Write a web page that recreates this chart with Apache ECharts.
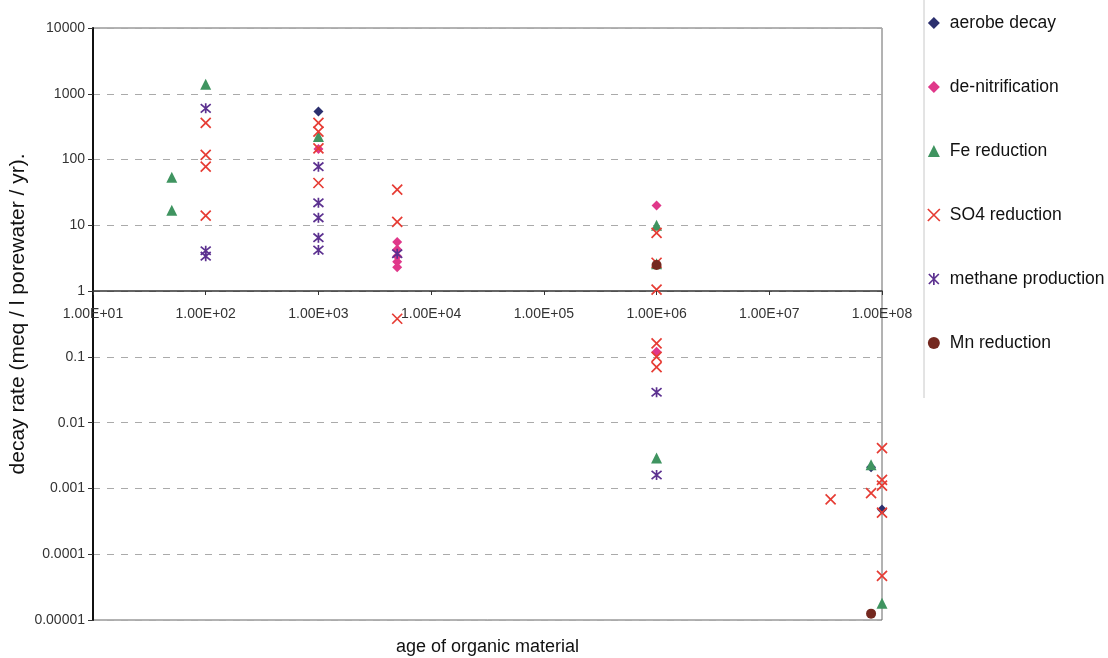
<!DOCTYPE html>
<html>
<head>
<meta charset="utf-8">
<script src="https://cdn.jsdelivr.net/npm/echarts@6/dist/echarts.min.js"></script>
<style>
html,body{margin:0;padding:0;background:#fff;}
#chart{width:1108px;height:658px;}
</style>
</head>
<body>
<div id="chart"></div>
<script>
// ---- data (age in years, decay rate in meq / l porewater / yr) ----
const seriesNames = ['aerobe decay', 'de-nitrification', 'Fe reduction', 'SO4 reduction', 'methane production', 'Mn reduction'];
const aerobeDecay = [[1000, 540], [8e7, 0.0021], [1e8, 0.00048]];
const deNitrification = [[1000, 145], [5000, 5.6], [5000, 4.3], [5000, 3.4], [5000, 2.8], [5000, 2.3], [1e6, 20], [1e6, 0.12]];
const feReduction = [[50, 54], [50, 17], [100, 1400], [1000, 225], [1e6, 10], [1e6, 2.6], [1e6, 0.0029], [8e7, 0.0023], [1e8, 1.8e-5]];
const so4Reduction = [[100, 360], [100, 118], [100, 78], [100, 14], [1000, 360], [1000, 265], [1000, 148], [1000, 44],
  [5000, 35], [5000, 11.3], [5000, 0.38], [1e6, 7.7], [1e6, 2.7], [1e6, 1.05], [1e6, 0.16], [1e6, 0.1], [1e6, 0.07],
  [3.5e7, 0.00068], [8e7, 0.00085], [1e8, 0.0041], [1e8, 0.00135], [1e8, 0.0011], [1e8, 0.00043], [1e8, 4.7e-5]];
const methaneProduction = [[100, 600], [100, 4.1], [100, 3.4], [1000, 78], [1000, 22], [1000, 13], [1000, 6.5], [1000, 4.2],
  [5000, 3.7], [1e6, 0.029], [1e6, 0.0016]];
const mnReduction = [[1e6, 2.5], [8e7, 1.25e-5]];

const xTickLabels = ['1.00E+01', '1.00E+02', '1.00E+03', '1.00E+04', '1.00E+05', '1.00E+06', '1.00E+07', '1.00E+08'];
const yTickLabels = ['0.00001', '0.0001', '0.001', '0.01', '0.1', '1', '10', '100', '1000', '10000'];

const xAxisName = 'age of organic material';
const yAxisName = 'decay rate (meq / l porewater / yr).';

// ---- styling ----
const colors = ['#2b2f6e', '#e0388a', '#3f9460', '#e63c34', '#5c3190', '#74281f'];
const crossPath = 'path://M0,0L10,10M10,0L0,10';
const starPath = 'path://M0,0L10,10M10,0L0,10M5,-1L5,11';
const FONT = 'Liberation Sans, Arial, sans-serif';

const chart = echarts.init(document.getElementById('chart'));

function styleFor(i, stroke) {
  return stroke ? { color: 'rgba(0,0,0,0)', borderColor: colors[i], borderWidth: 1.7, opacity: 1 } : { color: colors[i], opacity: 1 };
}
function scatter(i, data, symbol, size, stroke) {
  return {
    name: seriesNames[i], type: 'scatter', data: data, symbol: symbol, symbolSize: size,
    itemStyle: styleFor(i, stroke),
    emphasis: { disabled: true }
  };
}

const option = {
  animation: false,
  backgroundColor: '#fff',
  grid: { left: 93, right: 226, top: 28, bottom: 38, show: true, borderColor: '#666', borderWidth: 1,
          containLabel: false, outerBoundsMode: 'none' },
  legend: {
    orient: 'vertical', left: 922, top: 8, itemWidth: 12, itemHeight: 12, itemGap: 44,
    textStyle: { fontFamily: FONT, fontSize: 17.5, color: '#111', lineHeight: 20, padding: [0, 0, 0, 5] },
    data: seriesNames.map((n, i) => ({ name: n, itemStyle: styleFor(i, i === 3 || i === 4) }))
  },
  xAxis: {
    type: 'log', logBase: 10, min: 10, max: 1e8, splitNumber: 7,
    offset: -329,
    name: xAxisName, nameLocation: 'middle', nameGap: 347,
    nameTextStyle: { fontFamily: FONT, fontSize: 18, color: '#111' },
    axisLine: { show: true, lineStyle: { color: '#333', width: 1.5 } },
    axisTick: { show: true, length: 4, lineStyle: { color: '#333' } },
    minorTick: { show: false },
    splitLine: { show: false },
    axisLabel: {
      margin: 16, fontFamily: FONT, fontSize: 14, color: '#333',
      formatter: v => xTickLabels[Math.round(Math.log10(v)) - 1] || ''
    }
  },
  yAxis: {
    type: 'log', logBase: 10, min: 1e-5, max: 1e4, splitNumber: 9,
    axisLine: { show: true, lineStyle: { color: '#111', width: 2 } },
    axisTick: { show: true, length: 5, lineStyle: { color: '#333' } },
    splitLine: { show: true, lineStyle: { color: '#aaa', type: [7, 7], width: 1 } },
    axisLabel: {
      margin: 8, fontFamily: FONT, fontSize: 14, color: '#333',
      formatter: v => yTickLabels[Math.round(Math.log10(v)) + 5] || ''
    }
  },
  graphic: [{
    type: 'line', shape: { x1: 924, y1: 0, x2: 924, y2: 398 }, style: { stroke: '#c8c8c8', lineWidth: 1 }, silent: true
  }, {
    type: 'text', x: 18, y: 314, rotation: Math.PI / 2, silent: true,
    style: { text: yAxisName, fontFamily: FONT, fontSize: 21, fill: '#111', align: 'center', verticalAlign: 'middle' }
  }],
  series: [
    scatter(0, aerobeDecay, 'diamond', 10, false),
    scatter(1, deNitrification, 'diamond', 10, false),
    scatter(2, feReduction, 'triangle', 11, false),
    scatter(3, so4Reduction, crossPath, 10, true),
    scatter(4, methaneProduction, starPath, 10, true),
    scatter(5, mnReduction, 'circle', 10, false)
  ]
};
chart.setOption(option);
</script>
</body>
</html>
